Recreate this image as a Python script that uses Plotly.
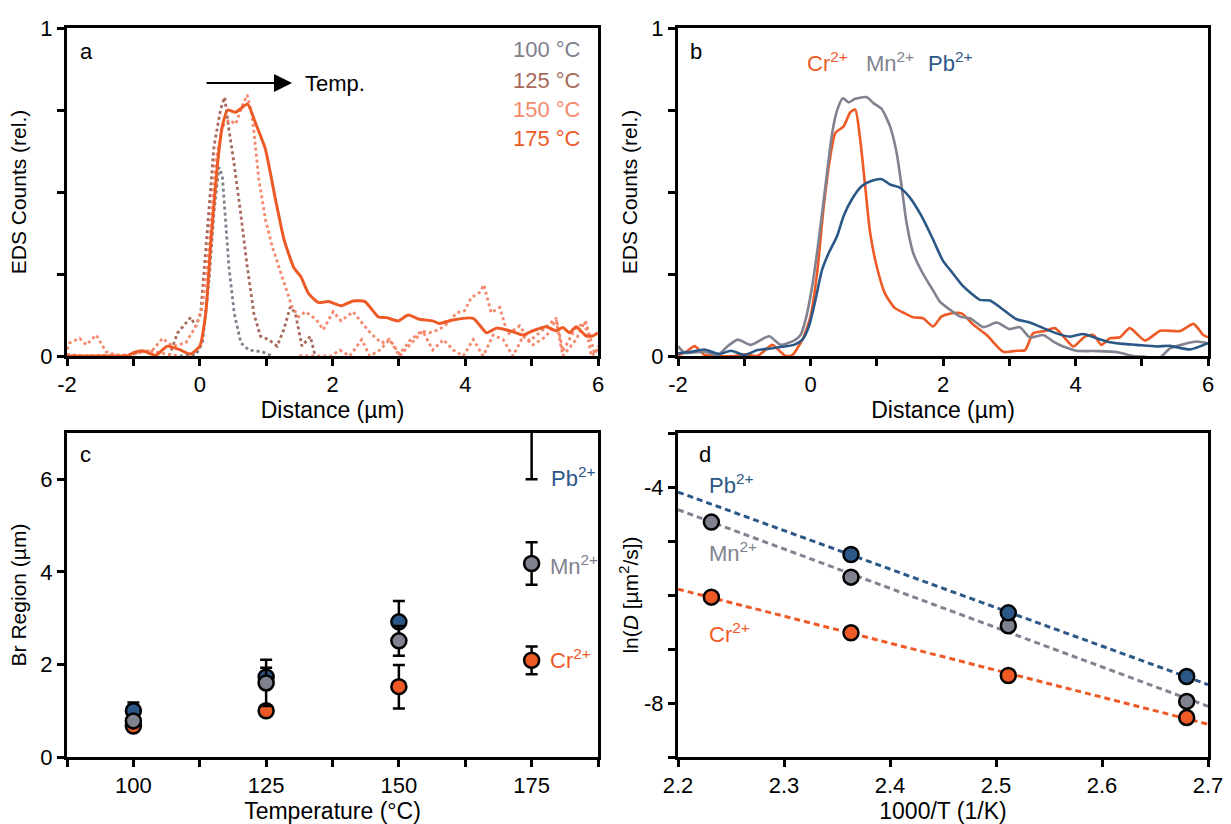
import numpy as np
import plotly.graph_objects as go

# ---------------- data ----------------
# panel a: EDS line scans at different temperatures (distance in um, relative counts)
a100_x = [-0.3, -0.06, 0.04, 0.14, 0.215, 0.29, 0.34, 0.39, 0.44, 0.52, 0.62, 0.74, 0.94, 1.09]
a100_y = [0.0, 0.003, 0.04, 0.23, 0.44, 0.575, 0.55, 0.42, 0.27, 0.13, 0.04, 0.018, 0.013, 0.0]

a125_x = [-0.46, -0.335, -0.135, -0.06, 0.015, 0.115, 0.215, 0.315, 0.375, 0.44, 0.515, 0.615,
          0.715, 0.815, 0.915, 1.04, 1.165, 1.265, 1.365, 1.44, 1.54, 1.665, 1.74]
a125_y = [0.0, 0.07, 0.118, 0.09, 0.13, 0.386, 0.64, 0.753, 0.789, 0.69, 0.59, 0.437,
          0.273, 0.13, 0.06, 0.05, 0.03, 0.08, 0.15, 0.13, 0.03, 0.06, 0.0]

a150_x = [-2.0, -1.96, -1.81, -1.71, -1.56, -1.41, -1.26, -1.06, -0.86, -0.71, -0.56, -0.41, -0.21,
          -0.06, 0.04, 0.14, 0.24, 0.34, 0.44, 0.54, 0.64, 0.715, 0.79, 0.89, 0.99, 1.09, 1.19,
          1.29, 1.39, 1.49, 1.59, 1.66, 1.76, 1.86, 2.01, 2.13, 2.31, 2.46, 2.59, 2.74, 2.86,
          3.01, 3.16, 3.34, 3.46, 3.61, 3.74, 3.87, 3.99, 4.09, 4.22, 4.28, 4.39, 4.52, 4.64,
          4.82, 4.97, 5.12, 5.37, 5.47, 5.67, 5.82, 5.95, 6.0]
a150_y = [0.02, 0.04, 0.054, 0.034, 0.064, 0.013, 0.003, 0.003, 0.013, 0.018, 0.054, 0.03, 0.04,
          0.09, 0.15, 0.335, 0.59, 0.70, 0.72, 0.707, 0.763, 0.796, 0.733, 0.54, 0.416, 0.335, 0.273,
          0.212, 0.15, 0.12, 0.135, 0.125, 0.11, 0.08, 0.135, 0.107, 0.135, 0.097, 0.066, 0.04, 0.051,
          0.006, 0.046, 0.076, 0.071, 0.081, 0.10, 0.132, 0.138, 0.178, 0.194, 0.217, 0.132, 0.148, 0.066,
          0.092, 0.046, 0.071, 0.116, 0.015, 0.087, 0.102, 0.006, 0.03]

a150b_x = [-2.0, -1.7, -1.4, -1.1, -0.86, -0.7, -0.5, -0.3, None, 1.5, 1.75, 1.98, 2.11, 2.26,
           2.44, 2.56, 2.71, 2.86, 3.01, 3.16, 3.36, 3.51, 3.67, 3.82, 3.97, 4.12, 4.27, 4.42,
           4.57, 4.72, 4.87, 5.02, 5.22, 5.37, 5.47, 5.67, 5.8, 5.9, 6.0]
a150b_y = [0.005, 0.0, 0.003, 0.0, 0.013, 0.015, 0.005, 0.0, None, 0.0, 0.0, 0.0, 0.018, 0.0,
           0.05, 0.0, 0.018, 0.05, 0.0, 0.034, 0.076, 0.018, 0.05, 0.018, 0.0, 0.05, 0.0, 0.064,
           0.05, 0.0, 0.06, 0.034, 0.06, 0.11, 0.0, 0.05, 0.105, 0.0, 0.02]

a175_x = [-2.0, -1.5, -1.1, -1.0, -0.86, -0.66, -0.49, -0.31, -0.14, 0.0, 0.09, 0.17, 0.27, 0.34,
          0.42, 0.54, 0.72, 0.84, 0.99, 1.14, 1.27, 1.42, 1.52, 1.64, 1.79, 1.94, 2.13, 2.31, 2.49,
          2.69, 2.81, 2.99, 3.14, 3.31, 3.51, 3.61, 3.81, 4.12, 4.32, 4.47, 4.67, 4.87, 5.02, 5.22,
          5.37, 5.47, 5.57, 5.67, 5.82, 5.92, 6.0]
a175_y = [0.0, 0.0, 0.0, 0.01, 0.016, 0.002, 0.03, 0.02, 0.006, 0.03, 0.13, 0.355, 0.59, 0.70,
          0.75, 0.743, 0.768, 0.71, 0.63, 0.478, 0.355, 0.268, 0.243, 0.19, 0.163, 0.166, 0.153,
          0.168, 0.166, 0.119, 0.117, 0.107, 0.125, 0.112, 0.107, 0.099, 0.11, 0.115, 0.071, 0.085,
          0.077, 0.064, 0.077, 0.089, 0.077, 0.087, 0.071, 0.089, 0.061, 0.061, 0.071]

# panel b: line scans for the three dopants
b_mn_x = [-2.0, -1.9, -1.6, -1.4, -1.25, -1.1, -0.9, -0.625, -0.45, -0.25, -0.15, -0.075, 0.025,
          0.125, 0.225, 0.325, 0.4, 0.49, 0.575, 0.675, 0.85, 0.95, 1.075, 1.2, 1.3, 1.375, 1.45,
          1.55, 1.7, 1.85, 1.956, 2.106, 2.257, 2.408, 2.61, 2.81, 3.01, 3.16, 3.31, 3.514, 3.665,
          3.816, 4.017, 4.32, 4.62, 4.873, 5.024, 5.276, 5.426, 5.628, 5.83, 6.0]
b_mn_y = [0.03, 0.01, 0.013, 0.003, 0.03, 0.05, 0.034, 0.06, 0.034, 0.047, 0.064, 0.11, 0.212,
          0.355, 0.518, 0.677, 0.748, 0.786, 0.773, 0.784, 0.789, 0.771, 0.753, 0.70, 0.62, 0.518,
          0.406, 0.314, 0.25, 0.2, 0.165, 0.141, 0.12, 0.115, 0.088, 0.102, 0.082, 0.088, 0.057,
          0.064, 0.044, 0.029, 0.016, 0.015, 0.012, 0.0, -0.002, -0.004, 0.023, 0.036, 0.044, 0.039]

b_pb_x = [-2.0, -1.8, -1.6, -1.375, -1.2, -1.0, -0.8, -0.6, -0.4, -0.25, -0.125, -0.025, 0.075,
          0.175, 0.275, 0.4, 0.5, 0.625, 0.775, 0.925, 1.075, 1.2, 1.35, 1.5, 1.675, 1.85, 2.0,
          2.106, 2.307, 2.558, 2.71, 2.91, 3.11, 3.31, 3.514, 3.715, 3.916, 4.117, 4.32, 4.52,
          4.72, 4.92, 5.225, 5.426, 5.73, 6.0]
b_pb_y = [0.008, 0.013, 0.02, 0.006, 0.016, 0.003, 0.018, 0.023, 0.029, 0.034, 0.049, 0.09, 0.171,
          0.263, 0.314, 0.365, 0.427, 0.478, 0.518, 0.534, 0.539, 0.523, 0.513, 0.483, 0.427,
          0.355, 0.29, 0.263, 0.212, 0.171, 0.169, 0.141, 0.112, 0.102, 0.085, 0.069, 0.059,
          0.067, 0.054, 0.042, 0.037, 0.034, 0.029, 0.031, 0.02, 0.039]

b_cr_x = [-2.0, -1.875, -1.75, -1.6, -1.4, -1.15, -1.0, -0.8, -0.575, -0.45, -0.375, -0.275,
          -0.125, 0.0, 0.1, 0.2, 0.3, 0.375, 0.5, 0.6, 0.675, 0.75, 0.825, 0.9, 1.0, 1.125, 1.275,
          1.425, 1.55, 1.7, 1.85, 1.975, 2.1, 2.28, 2.46, 2.66, 2.91, 3.11, 3.24, 3.36, 3.54, 3.69,
          3.82, 3.97, 4.14, 4.27, 4.39, 4.52, 4.67, 4.82, 5.05, 5.28, 5.58, 5.78, 5.93, 6.0]
b_cr_y = [0.002, 0.013, 0.03, 0.003, 0.0, 0.0, 0.005, 0.0, 0.034, 0.012, 0.0, 0.003, 0.049, 0.12,
          0.253, 0.457, 0.61, 0.68, 0.70, 0.743, 0.751, 0.66, 0.518, 0.376, 0.273, 0.19, 0.146,
          0.13, 0.118, 0.115, 0.09, 0.12, 0.129, 0.13, 0.095, 0.064, 0.013, 0.016, 0.018, 0.069,
          0.076, 0.085, 0.059, 0.029, 0.059, 0.064, 0.034, 0.054, 0.057, 0.085, 0.047, 0.077,
          0.076, 0.098, 0.064, 0.057]

# panel c: Br region width vs temperature
temps = [100, 125, 150, 175]
c_pb = [1.0, 1.73, 2.92, 7.6]
c_pb_err = [0.18, 0.2, 0.45, 1.6]
c_mn = [0.78, 1.60, 2.51, 4.18]
c_mn_err = [0.08, 0.5, 0.32, 0.46]
c_cr = [0.67, 1.0, 1.52, 2.09]
c_cr_err = [0.05, 0.1, 0.47, 0.3]

# panel d: Arrhenius plot
inv_T = [2.2315, 2.3632, 2.5116, 2.6799]
d_pb = [None, -5.25, -6.33, -7.51]
d_mn = [-4.65, -5.67, -6.57, -7.97]
d_cr = [-6.04, -6.70, -7.49, -8.27]
fit_x_range = [2.2, 2.7]

# ---------------- style ----------------
C_CR = "#EE5A26"
C_MN = "#80828F"
C_PB = "#2B5886"
C100 = "#7E808D"
C125 = "#A8695B"
C150 = "#F5896D"
C175 = "#EE5A26"
FONT = "Liberation Sans, Arial, sans-serif"

fig = go.Figure()

# panel a
fig.add_trace(go.Scatter(x=a100_x, y=a100_y, name="100 °C", mode="lines",
                         line=dict(color=C100, width=2.8, dash="dot"), xaxis="x", yaxis="y"))
fig.add_trace(go.Scatter(x=a125_x, y=a125_y, name="125 °C", mode="lines",
                         line=dict(color=C125, width=2.8, dash="dot"), xaxis="x", yaxis="y"))
fig.add_trace(go.Scatter(x=a150_x, y=a150_y, name="150 °C", mode="lines",
                         line=dict(color=C150, width=2.8, dash="dot"), xaxis="x", yaxis="y"))
fig.add_trace(go.Scatter(x=a150b_x, y=a150b_y, name="150 °C", mode="lines", connectgaps=False,
                         line=dict(color=C150, width=2.8, dash="dot"), xaxis="x", yaxis="y"))
fig.add_trace(go.Scatter(x=a175_x, y=a175_y, name="175 °C", mode="lines",
                         line=dict(color=C175, width=3, shape="spline", smoothing=0.5),
                         xaxis="x", yaxis="y"))

# panel b
for xs, ys, col, nm in [(b_cr_x, b_cr_y, C_CR, "Cr2+"), (b_mn_x, b_mn_y, C_MN, "Mn2+"),
                        (b_pb_x, b_pb_y, C_PB, "Pb2+")]:
    fig.add_trace(go.Scatter(x=xs, y=ys, name=nm, mode="lines",
                             line=dict(color=col, width=2.6, shape="spline", smoothing=0.6),
                             xaxis="x2", yaxis="y2"))

# panel c
for ys, err, col, nm in [(c_cr, c_cr_err, C_CR, "Cr2+"), (c_pb, c_pb_err, C_PB, "Pb2+"),
                         (c_mn, c_mn_err, C_MN, "Mn2+")]:
    fig.add_trace(go.Scatter(x=temps, y=ys, name=nm, mode="markers",
                             marker=dict(color=col, size=15, line=dict(color="black", width=2.5)),
                             error_y=dict(type="data", array=err, color="black", thickness=2.5, width=6),
                             xaxis="x3", yaxis="y3"))

# panel d: fitted lines + points
for ys, col, nm in [(d_mn, C_MN, "Mn2+"), (d_pb, C_PB, "Pb2+"), (d_cr, C_CR, "Cr2+")]:
    xx = np.array([x for x, y in zip(inv_T, ys) if y is not None])
    yy = np.array([y for y in ys if y is not None])
    slope, icpt = np.polyfit(xx, yy, 1)
    fx = np.array(fit_x_range)
    fig.add_trace(go.Scatter(x=fx, y=slope * fx + icpt, name=nm + " fit", mode="lines",
                             line=dict(color=col, width=3, dash="6px,4px"),
                             xaxis="x4", yaxis="y4"))
for ys, col, nm in [(d_mn, C_MN, "Mn2+"), (d_pb, C_PB, "Pb2+"), (d_cr, C_CR, "Cr2+")]:
    fig.add_trace(go.Scatter(x=inv_T, y=ys, name=nm, mode="markers",
                             marker=dict(color=col, size=15, line=dict(color="black", width=2.5)),
                             xaxis="x4", yaxis="y4"))

# ---------------- axes ----------------
W, H = 1231, 824


def dom_x(l, r):
    return [l / W, r / W]


def dom_y(top, bottom):
    return [1 - bottom / H, 1 - top / H]


base = dict(showline=True, linecolor="black", linewidth=3, mirror=True, ticks="outside",
            ticklen=7, tickwidth=3, tickcolor="black", showgrid=False, zeroline=False,
            tickfont=dict(family=FONT, size=22, color="black"), automargin=False)
xtfont = dict(family=FONT, size=23, color="black")
ytfont = dict(family=FONT, size=21, color="black")

dist_ticks = [-2, -1, 0, 1, 2, 3, 4, 5, 6]
dist_text = ["-2", "", "0", "", "2", "", "4", "", "6"]
eds_ticks = [0, 0.25, 0.5, 0.75, 1]
eds_text = ["0", "", "", "", "1"]

fig.update_layout(
    xaxis=dict(base, domain=dom_x(67, 598), range=[-2, 6], tickvals=dist_ticks, ticktext=dist_text,
               title=dict(text="Distance (µm)", font=xtfont, standoff=0), anchor="y"),
    yaxis=dict(base, domain=dom_y(28, 356), range=[0, 1], tickvals=eds_ticks, ticktext=eds_text,
               title=dict(text="EDS Counts (rel.)", font=ytfont, standoff=8), anchor="x"),
    xaxis2=dict(base, domain=dom_x(678, 1208), range=[-2, 6], tickvals=dist_ticks, ticktext=dist_text,
                title=dict(text="Distance (µm)", font=xtfont, standoff=0), anchor="y2"),
    yaxis2=dict(base, domain=dom_y(28, 356), range=[0, 1], tickvals=eds_ticks, ticktext=eds_text,
                title=dict(text="EDS Counts (rel.)", font=ytfont, standoff=8), anchor="x2"),
    xaxis3=dict(base, domain=dom_x(67, 598), range=[87.5, 187.5],
                tickvals=[87.5, 100, 112.5, 125, 137.5, 150, 162.5, 175, 187.5],
                ticktext=["", "100", "", "125", "", "150", "", "175", ""],
                title=dict(text="Temperature (°C)", font=xtfont, standoff=2), anchor="y3"),
    yaxis3=dict(base, domain=dom_y(433, 757), range=[0, 7], tickvals=[0, 2, 4, 6],
                title=dict(text="Br Region (µm)", font=ytfont, standoff=8), anchor="x3"),
    xaxis4=dict(base, domain=dom_x(678, 1208), range=[2.2, 2.7],
                tickvals=[2.2, 2.3, 2.4, 2.5, 2.6, 2.7],
                ticktext=["2.2", "2.3", "2.4", "2.5", "2.6", "2.7"],
                title=dict(text="1000/T (1/K)", font=xtfont, standoff=2), anchor="y4"),
    yaxis4=dict(base, domain=dom_y(433, 757), range=[-9, -3], tickvals=[-9, -8, -7, -6, -5, -4, -3],
                ticktext=["", "-8", "", "", "", "-4", ""],
                title=dict(text="ln(<i>D</i> [µm<sup>2</sup>/s])", font=ytfont, standoff=0), anchor="x4"),
)

# ---------------- annotations ----------------
ann = []


def txt(text, x, y, xref, yref, color="black", size=22, xanchor="left", yanchor="middle"):
    ann.append(dict(text=text, x=x, y=y, xref=xref, yref=yref, showarrow=False,
                    xanchor=xanchor, yanchor=yanchor,
                    font=dict(family=FONT, size=size, color=color)))


# panel letters
txt("a", 0.021, 0.927, "x domain", "y domain")
txt("b", 0.019, 0.927, "x2 domain", "y2 domain")
txt("c", 0.021, 0.935, "x3 domain", "y3 domain")
txt("d", 0.036, 0.935, "x4 domain", "y4 domain")

# panel a legend
for t, yv, col in [("100 °C", 0.933, C100), ("125 °C", 0.841, C125),
                   ("150 °C", 0.752, C150), ("175 °C", 0.664, C175)]:
    txt(t, 0.972, yv, "x domain", "y domain", color=col, xanchor="right")

# arrow + Temp.
ann.append(dict(x=1.39, y=0.832, ax=0.08, ay=0.832, xref="x", yref="y", axref="x", ayref="y",
                text="", showarrow=True, arrowhead=2, arrowsize=1.8, arrowwidth=2, arrowcolor="black"))
txt("Temp.", 1.55, 0.832, "x", "y")

# panel b legend
txt("Cr<sup>2+</sup>", 0.24, 0.896, "x2 domain", "y2 domain", color=C_CR)
txt("Mn<sup>2+</sup>", 0.351, 0.896, "x2 domain", "y2 domain", color=C_MN)
txt("Pb<sup>2+</sup>", 0.468, 0.896, "x2 domain", "y2 domain", color=C_PB)

# panel c labels
txt("Pb<sup>2+</sup>", 0.908, 6.05, "x3 domain", "y3", color=C_PB)
txt("Mn<sup>2+</sup>", 0.906, 4.15, "x3 domain", "y3", color=C_MN)
txt("Cr<sup>2+</sup>", 0.906, 2.12, "x3 domain", "y3", color=C_CR)

# panel d labels
txt("Pb<sup>2+</sup>", 0.054, -3.95, "x4 domain", "y4", color=C_PB)
txt("Mn<sup>2+</sup>", 0.054, -5.2, "x4 domain", "y4", color=C_MN)
txt("Cr<sup>2+</sup>", 0.054, -6.7, "x4 domain", "y4", color=C_CR)

fig.update_layout(
    annotations=ann,
    width=W, height=H,
    margin=dict(l=0, r=0, t=0, b=0),
    paper_bgcolor="white", plot_bgcolor="white",
    showlegend=False,
    font=dict(family=FONT, size=20, color="black"),
)

fig.write_html("out.html")
